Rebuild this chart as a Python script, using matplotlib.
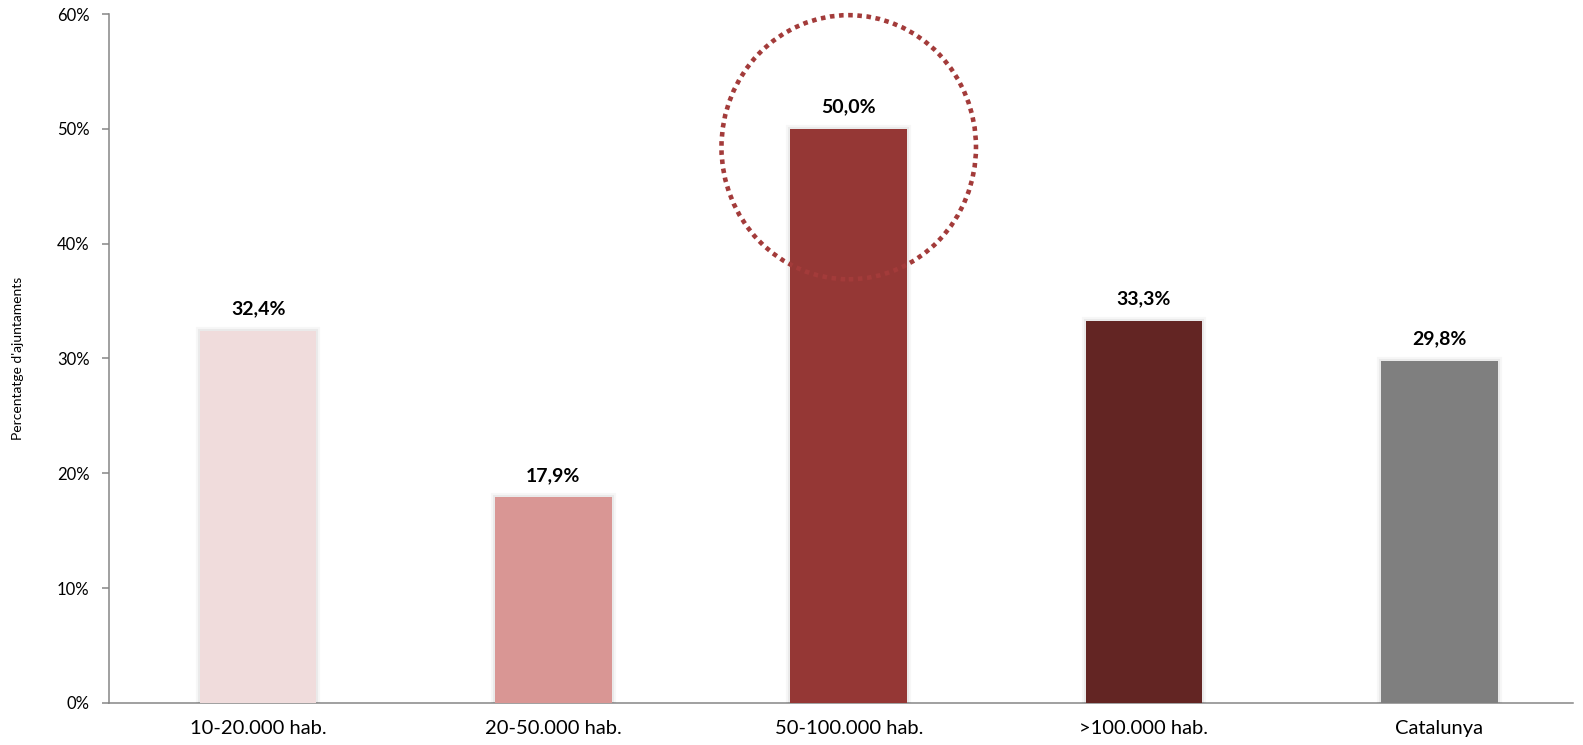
import matplotlib
matplotlib.use("Agg")
import matplotlib.pyplot as plt
import matplotlib.patheffects as pe
from matplotlib.patches import Ellipse

# Données
categories = ['10-20.000 hab.', '20-50.000 hab.', '50-100.000 hab.', '>100.000 hab.', 'Catalunya']
values = [32.4, 17.9, 50.0, 33.3, 29.8]
colors = ['#F0DCDC', '#D99694', '#953735', '#632523', '#7F7F7F']
yticks = [0, 10, 20, 30, 40, 50, 60]
highlight = 2  # barre entourée

plt.rcParams['font.family'] = ['Lato', 'DejaVu Sans']

fig = plt.figure(figsize=(15.83, 7.45), dpi=100)
ax = fig.add_axes([0.0689, 0.0564, 0.9248, 0.9248])

x = range(len(categories))
shadow = [pe.Stroke(linewidth=6, foreground='#000000', alpha=0.03),
          pe.Stroke(linewidth=3, foreground='#000000', alpha=0.05),
          pe.Normal()]
bars = ax.bar(x, values, width=0.395, color=colors, zorder=3)
for b in bars:
    b.set_path_effects(shadow)

# Étiquettes de valeurs
for i, v in enumerate(values):
    ax.annotate(f"{v:.1f}%".replace('.', ','), xy=(i, v), xytext=(0, 12),
                textcoords='offset points', ha='center', va='baseline',
                fontsize=14, fontweight='bold', color='black')

# Cercle pointillé autour de la barre mise en évidence
circle = Ellipse((highlight, 48.4), width=0.862, height=23.0, fill=False,
                 edgecolor='#A33B3A', linewidth=3.3, linestyle=(0, (1, 1)),
                 zorder=4, clip_on=False)
ax.add_patch(circle)

ax.set_xlim(-0.505, 4.453)
ax.set_ylim(0, 60)
ax.set_yticks(yticks)
ax.set_yticklabels([f"{t}%" for t in yticks], fontsize=12)
ax.set_xticks(list(x))
ax.set_xticklabels(categories, fontsize=14.5)
ax.tick_params(axis='x', length=0, pad=12)
ax.tick_params(axis='y', length=5, width=1.1, color='#868686', pad=9)
ax.set_ylabel("Percentatge d'ajuntaments", fontsize=10)
ax.yaxis.set_label_coords(-0.058, 0.5)

for s in ['top', 'right']:
    ax.spines[s].set_visible(False)
for s in ['left', 'bottom']:
    ax.spines[s].set_color('#868686')
    ax.spines[s].set_linewidth(1.1)

fig.savefig('out.png', dpi=100, facecolor='white')
